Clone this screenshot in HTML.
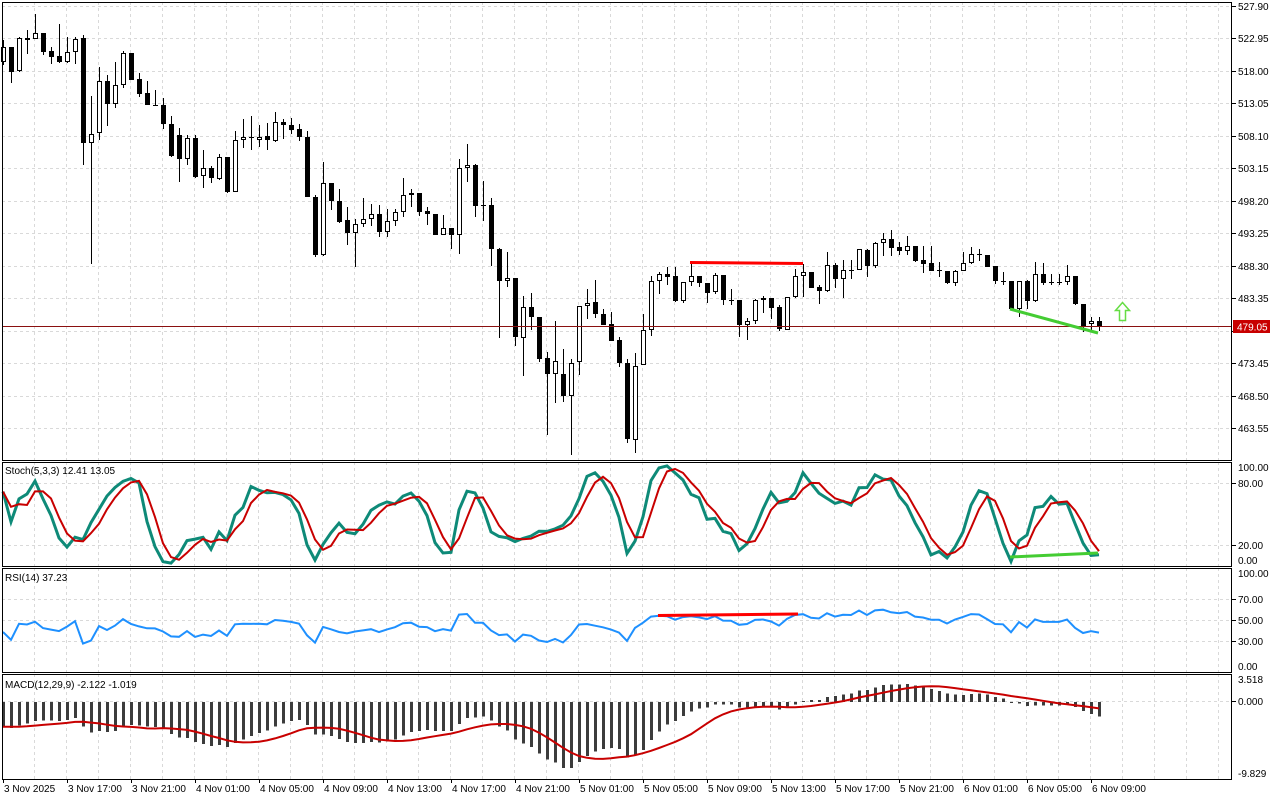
<!DOCTYPE html>
<html><head><meta charset="utf-8">
<style>
html,body{margin:0;padding:0;background:#fff;}
svg{display:block;font-family:"Liberation Sans",sans-serif;}
</style></head>
<body>
<svg id="c" width="1280" height="800" xmlns="http://www.w3.org/2000/svg"></svg>
<script>
var D=[
['w',47,62,40,65],['b',47,72,47,83],['w',38,71,37,72],['b',38,40,30,54],['w',33,39,14,39],
['b',33,52,33,55],['b',51,57,47,64],['b',56,62,24,63],['w',52,62,37,63],['w',39,52,37,64],
['b',38,143,35,165],['w',134,143,96,264],['w',81,133,67,140],['b',81,104,75,126],['w',85,104,62,108],
['w',53,85,51,88],['b',53,80,53,80],['b',79,94,73,97],['b',93,105,81,105],['d',105,106,90,106],
['b',105,124,98,129],['b',124,156,116,157],['b',135,159,128,182],['w',138,159,135,165],['b',138,177,135,178],
['w',168,176,150,188],['b',168,178,166,183],['w',157,179,154,180],['b',157,192,157,193],['w',140,192,131,192],
['w',137,140,119,148],['d',137,138,116,150],['w',137,140,125,147],['b',136,140,123,150],['w',122,141,112,142],
['b',122,125,119,139],['b',125,130,118,134],['b',129,137,124,141],['b',137,197,131,197],['b',197,255,195,257],
['w',183,255,162,256],['b',183,201,183,210],['b',201,222,189,223],['b',220,233,207,245],['w',224,233,219,267],
['w',219,224,198,227],['w',214,219,204,226],['b',214,232,205,237],['w',221,232,209,237],['w',212,221,209,226],
['w',195,212,178,217],['w',193,195,189,207],['b',193,212,193,216],['b',211,214,207,225],['b',214,235,214,235],
['w',228,235,215,235],['b',228,235,228,249],['w',168,235,159,254],['w',165,168,144,182],['b',165,206,164,217],
['d',205,206,181,221],['b',205,249,198,266],['b',249,281,248,338],['w',278,281,252,287],['b',278,337,278,346],
['w',307,338,296,376],['b',307,317,293,330],['b',317,359,317,362],['b',358,374,352,435],['w',361,374,321,403],
['b',374,396,349,402],['w',363,396,359,455],['w',306,362,306,375],['w',303,306,289,319],['b',302,314,280,318],
['b',314,325,309,325],['b',324,341,312,341],['b',340,363,337,367],['b',363,439,359,443],['w',366,440,353,453],
['w',330,365,314,365],['w',281,330,276,336],['w',274,281,272,294],['b',274,277,267,285],['b',276,301,267,302],
['w',282,301,282,303],['w',276,282,261,286],['b',276,283,276,287],['b',283,293,283,303],['w',275,292,273,294],
['b',275,300,275,305],['d',300,301,289,305],['b',300,325,300,337],['w',321,325,318,340],['w',300,321,299,324],
['w',298,300,296,313],['b',298,308,298,319],['b',307,329,305,331],['w',297,330,297,330],['w',276,297,269,298],
['w',272,276,264,297],['b',272,288,272,288],['b',287,291,285,304],['w',265,291,252,292],['b',265,279,263,288],
['w',270,279,260,298],['d',270,271,260,279],['w',249,270,249,270],['b',250,266,249,277],['w',243,266,242,268],
['w',239,243,233,256],['b',239,248,230,256],['b',247,251,242,255],['w',246,251,236,255],['b',246,261,246,262],
['b',260,264,246,273],['b',263,271,246,271],['d',270,271,262,277],['b',271,283,271,284],['w',271,283,270,286],
['w',263,271,252,271],['w',254,263,247,264],['b',254,255,249,261],['b',255,267,255,267],['b',266,281,266,284],
['d',281,282,272,285],['b',281,309,281,309],['w',281,309,281,317],['b',281,301,280,309],['w',274,301,262,302],
['b',274,283,263,285],['d',282,283,274,285],['d',282,283,274,285],['w',276,282,265,285],['b',276,304,276,305],
['b',304,326,304,332],['w',321,324,317,332],['b',321,327,317,331]
];
function P(y){return 463.55+(428-y)/6.566;}
function X(i){return 3+8*i;}
var s='';
var L=2,R=1232;
var panels=[[2,460],[462,566],[568,672],[674,779]];
// grids
var g='';
panels.forEach(function(p){
 for(var x=34.5;x<R;x+=32){g+='<line x1="'+x+'" y1="'+p[0]+'" x2="'+x+'" y2="'+p[1]+'"/>';}
});
var pl=['527.90','522.95','518.00','513.05','508.10','503.15','498.20','493.25','488.30','483.35','478.40','473.45','468.50','463.55'];
var ax='';
pl.forEach(function(t,k){var y=Math.round(5.5+k*32.5)+0.5;g+='<line x1="'+L+'" y1="'+y+'" x2="'+R+'" y2="'+y+'"/>';
 ax+='<line x1="1232" y1="'+y+'" x2="1236" y2="'+y+'" stroke="#000"/>';
 if(t!='478.40')ax+='<text x="1238" y="'+(y+3.5)+'">'+t+'</text>';});
[[483.5,'80.00'],[545.5,'20.00']].forEach(function(a){g+='<line x1="'+L+'" y1="'+a[0]+'" x2="'+R+'" y2="'+a[0]+'"/>';ax+='<line x1="1232" y1="'+a[0]+'" x2="1236" y2="'+a[0]+'" stroke="#000"/><text x="1238" y="'+(a[0]+3.5)+'">'+a[1]+'</text>';});
ax+='<text x="1238" y="471">100.00</text><text x="1238" y="564">0.00</text>';
[[599.5,'70.00'],[620.5,'50.00'],[641.5,'30.00']].forEach(function(a){g+='<line x1="'+L+'" y1="'+a[0]+'" x2="'+R+'" y2="'+a[0]+'"/>';ax+='<line x1="1232" y1="'+a[0]+'" x2="1236" y2="'+a[0]+'" stroke="#000"/><text x="1238" y="'+(a[0]+3.5)+'">'+a[1]+'</text>';});
ax+='<text x="1238" y="577">100.00</text><text x="1238" y="670">0.00</text>';
g+='<line x1="'+L+'" y1="701.5" x2="'+R+'" y2="701.5"/>';
ax+='<line x1="1232" y1="701.5" x2="1236" y2="701.5" stroke="#000"/><text x="1238" y="705">0.000</text><text x="1238" y="683">3.518</text><text x="1238" y="777">-9.829</text>';
s+='<g stroke="#d9d9d9" stroke-dasharray="3,3" shape-rendering="crispEdges">'+g+'</g>';
// candles
var c='';
D.forEach(function(d,i){var x=X(i);
 c+='<line x1="'+(x+0.5)+'" y1="'+d[3]+'" x2="'+(x+0.5)+'" y2="'+d[4]+'" stroke="#000"/>';
 if(d[0]=='b')c+='<rect x="'+(x-2)+'" y="'+d[1]+'" width="5" height="'+Math.max(1,d[2]-d[1])+'" fill="#000"/>';
 else if(d[0]=='w')c+='<rect x="'+(x-1.5)+'" y="'+(d[1]+0.5)+'" width="4" height="'+Math.max(1,d[2]-d[1]-1)+'" fill="#fff" stroke="#000"/>';
 else c+='<line x1="'+(x-2)+'" y1="'+(d[1]+0.5)+'" x2="'+(x+3)+'" y2="'+(d[1]+0.5)+'" stroke="#000"/>';
});
s+='<g shape-rendering="crispEdges">'+c+'</g>';
s+='<line x1="2" y1="326.5" x2="1232" y2="326.5" stroke="#8a1010" shape-rendering="crispEdges"/>';
s+='<line x1="690" y1="262.5" x2="803" y2="263.5" stroke="#f00" stroke-width="3"/>';
s+='<line x1="1010" y1="309" x2="1098" y2="333" stroke="#44cc33" stroke-width="3"/>';
s+='<polygon points="1122.5,302.5 1129.5,310.5 1125.5,310.5 1125.5,320.5 1119.5,320.5 1119.5,310.5 1115.5,310.5" fill="#fff" stroke="#66dd44" stroke-width="1.5"/>';
// indicators
var n=D.length,O=[],H=[],Lo=[],C=[];
D.forEach(function(d){var o,cl;if(d[0]=='w'){o=d[2];cl=d[1];}else{o=d[1];cl=d[2];}O.push(P(o));C.push(P(cl));H.push(P(d[3]));Lo.push(P(d[4]));});
// stoch
var K=[],Dd=[],num=[],den=[];
for(var i=0;i<n;i++){var hh=-1e9,ll=1e9;for(var j=Math.max(0,i-4);j<=i;j++){hh=Math.max(hh,H[j]);ll=Math.min(ll,Lo[j]);}
 num.push(C[i]-ll);den.push(hh-ll);var a=0,b=0;for(j=Math.max(0,i-2);j<=i;j++){a+=num[j];b+=den[j];}K.push(b>0?a/b*100:50);
 var t=0,m=0;for(j=Math.max(0,i-2);j<=i;j++){t+=K[j];m++;}Dd.push(t/m);}
function path(arr,f){var p='';arr.forEach(function(v,i){p+=(i?'L':'M')+X(i)+','+f(v).toFixed(1);});return p;}
var sy=function(v){return 566-v*1.033;};
s+='<path d="'+path(K,sy)+'" fill="none" stroke="#0e8a78" stroke-width="3"/>';
s+='<path d="'+path(Dd,sy)+'" fill="none" stroke="#c80000" stroke-width="2"/>';
s+='<line x1="1010" y1="557" x2="1098" y2="553" stroke="#44cc33" stroke-width="3"/>';
// RSI
var ag=0.5,al=0.8,RS=[];
for(i=0;i<n;i++){var ch=i?C[i]-C[i-1]:0;ag=(ag*13+Math.max(ch,0))/14;al=(al*13+Math.max(-ch,0))/14;RS.push(100-100/(1+ag/al));}
var ry=function(v){return 672-v*1.04;};
s+='<path d="'+path(RS,ry)+'" fill="none" stroke="#1e90ff" stroke-width="2"/>';
s+='<line x1="658" y1="615.5" x2="798" y2="614" stroke="#f00" stroke-width="3"/>';
// MACD
var e12=C[0]+1,e29=C[0]+4.3,M=[],S=[],hist=[];for(i=0;i<8;i++)hist.push(-3.2);
for(i=0;i<n;i++){e12+=(C[i]-e12)*2/13;e29+=(C[i]-e29)*2/30;var mv=e12-e29;M.push(mv);hist.push(mv);var t2=0;for(j=hist.length-9;j<hist.length;j++)t2+=hist[j];S.push(t2/9);}
var my=function(v){return 702-v*7.72;};
var mb='';M.forEach(function(v,i){var y=my(v);mb+='<rect x="'+(X(i)-1)+'" y="'+Math.min(y,702)+'" width="3" height="'+Math.max(1,Math.abs(y-702))+'"/>';});
s+='<g fill="#3c3c3c" shape-rendering="crispEdges">'+mb+'</g>';
s+='<path d="'+path(S,my)+'" fill="none" stroke="#c80000" stroke-width="2"/>';
// frames
s+='<g fill="none" stroke="#000" shape-rendering="crispEdges">';
panels.forEach(function(p){s+='<rect x="2.5" y="'+(p[0]+0.5)+'" width="1229" height="'+(p[1]-p[0])+'"/>';});
s+='</g>';
// labels
s+='<g font-size="10" fill="#000">'+ax+'</g>';
s+='<rect x="1233" y="320" width="37" height="13" fill="#c80000"/><text x="1237" y="330.5" font-size="10" fill="#fff">479.05</text>';
s+='<g font-size="10" fill="#000"><text x="5" y="474">Stoch(5,3,3) 12.41 13.05</text><text x="5" y="581">RSI(14) 37.23</text><text x="5" y="688">MACD(12,29,9) -2.122 -1.019</text></g>';
var tl=['3 Nov 2025','3 Nov 17:00','3 Nov 21:00','4 Nov 01:00','4 Nov 05:00','4 Nov 09:00','4 Nov 13:00','4 Nov 17:00','4 Nov 21:00','5 Nov 01:00','5 Nov 05:00','5 Nov 09:00','5 Nov 13:00','5 Nov 17:00','5 Nov 21:00','6 Nov 01:00','6 Nov 05:00','6 Nov 09:00'];
var tt='';tl.forEach(function(t,k){var x=3+64*k;tt+='<line x1="'+(x+0.5)+'" y1="779" x2="'+(x+0.5)+'" y2="783" stroke="#000"/><text x="'+(x+1)+'" y="792">'+t+'</text>';});
s+='<g font-size="10" fill="#000">'+tt+'</g>';
document.getElementById('c').innerHTML=s;
</script>
</body></html>
